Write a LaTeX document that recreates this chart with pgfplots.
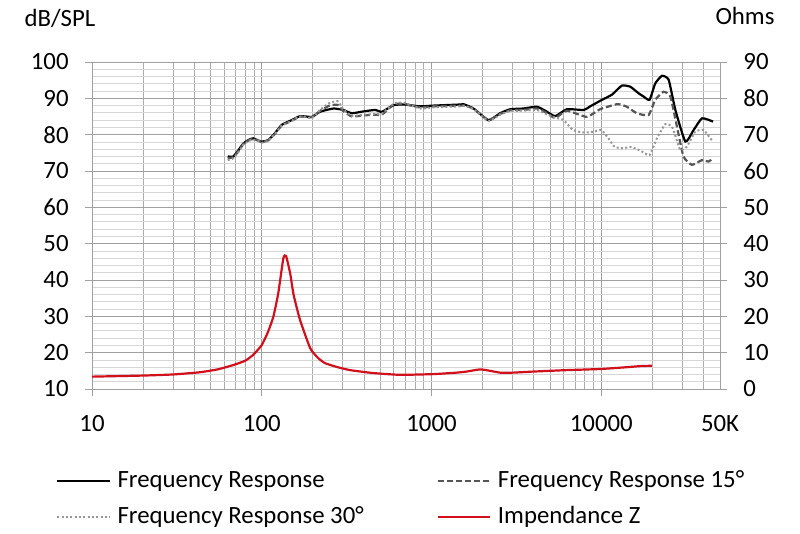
\documentclass[border=0pt]{standalone}
\usepackage{fontspec}
\setmainfont{Carlito}
\usepackage{pgfplots}
\pgfplotsset{compat=1.18}
\definecolor{gmaj}{RGB}{160,160,160}
\definecolor{gminx}{RGB}{172,172,172}
\definecolor{gminy}{RGB}{214,214,214}
\definecolor{dashcol}{RGB}{85,85,85}
\definecolor{dotcol}{RGB}{150,150,150}
\definecolor{zred}{RGB}{208,16,28}
\newcommand{\fs}{\fontsize{24.8}{29}\selectfont}
\begin{document}
\fs
\begin{tikzpicture}
\useasboundingbox (-92pt,-144pt) rectangle (708pt,389pt);
\begin{axis}[
  at={(0pt,0pt)}, anchor=south west, scale only axis,
  width=628pt, height=327pt,
  xmode=log, xmin=10, xmax=50000, ymin=10, ymax=100,
  xtick={10,100,1000,10000}, xticklabels={10,100,1000,10000},
  minor xtick={20,30,40,50,60,70,80,90,200,300,400,500,600,700,800,900,2000,3000,4000,5000,6000,7000,8000,9000,20000,30000,40000},
  extra x ticks={50000}, extra x tick labels={50K},
  extra x tick style={major tick style={draw=none}},
  ytick={10,20,...,100},
  minor ytick={12,14,...,98},
  xtick pos=bottom, ytick pos=left,
  tick align=outside, major tick length=7pt, minor tick length=0pt,
  tick style={gmaj, line width=0.8pt},
  grid=both,
  major grid style={gmaj, line width=0.8pt},
  minor x grid style={gminx, line width=0.8pt},
  minor y grid style={gminy, line width=0.8pt},
  axis line style={gmaj, line width=0.8pt},
  ticklabel style={font=\fs},
  /pgf/number format/assume math mode=true,
  xticklabel style={yshift=-11pt},
  yticklabel style={xshift=-8pt},
  legend columns=2,
  legend cell align=left,
  legend style={draw=none, fill=none, font=\fs, at={(-0.057,-0.244)}, anchor=north west, inner sep=0pt,
    /tikz/every odd column/.append style={column sep=5pt},
    /tikz/every even column/.append style={column sep=71pt}, row sep=10.5pt},
  legend image code/.code={\draw[#1] (0pt,0pt) -- (52pt,0pt);},
]
\addplot[black, line width=2.2pt, smooth, tension=0.3] coordinates {
(63,74.0) (68,74.0) (73,75.8) (78,77.6) (84,78.6) (89,79.0) (95,78.4) (100,78.1)
(109,78.5) (120,80.5) (131,82.7) (150,84.0) (168,85.1) (197,84.9) (220,86.3) (264,87.2)
(302,86.8) (339,85.9) (397,86.4) (465,86.8) (510,86.3) (597,88.1) (684,88.3) (857,87.8)
(1026,88.0) (1472,88.3) (1542,88.4) (1767,87.2) (2163,84.0) (2535,85.9) (2903,87.0)
(3477,87.2) (4165,87.7) (4667,86.6) (5344,85.1) (6266,87.0) (7854,86.8) (8600,87.8)
(9400,88.8) (10000,89.5) (11540,91.0) (13200,93.5) (14800,93.2) (16570,91.4) (17730,90.5)
(19240,89.6) (20780,94.1) (22760,96.2) (24920,95.1) (27290,86.8) (31250,78.1) (34990,81.3)
(39170,84.5) (45500,83.6)
};
\addlegendentry{Frequency Response}
\addplot[dashcol, line width=2.2pt, dash pattern=on 6pt off 3pt, smooth, tension=0.3] coordinates {
(63,73.5) (68,73.8) (73,75.5) (78,77.5) (84,78.5) (89,78.8) (95,78.4) (100,78.0)
(109,78.5) (120,80.3) (131,82.5) (150,83.8) (168,85.0) (197,84.8) (220,86.5) (250,88.0)
(280,88.2) (302,86.5) (339,85.0) (397,85.3) (465,85.5) (510,85.5) (597,88.3) (684,88.5)
(857,87.5) (1026,87.8) (1472,88.0) (1542,88.0) (1767,87.2) (2163,84.0) (2535,85.7)
(2903,86.7) (3477,86.8) (4165,87.2) (4667,86.2) (5344,84.6) (6266,86.6) (8200,84.9)
(9840,87.0) (12410,88.4) (14130,87.7) (16180,85.9) (18970,85.4) (20780,89.6) (23240,91.8)
(25500,90.5) (27860,82.3) (30470,74.0) (34120,71.7) (39170,73.0) (42850,72.6) (45200,73.5)
};
\addlegendentry{Frequency Response 15°}
\addplot[dotcol, line width=2pt, dash pattern=on 2pt off 2.3pt, smooth, tension=0.3] coordinates {
(63,73.0) (68,73.5) (73,75.3) (78,77.3) (84,78.3) (89,78.7) (95,78.3) (100,77.8)
(109,78.3) (120,80.3) (131,82.5) (150,83.8) (168,85.0) (197,84.6) (220,86.8) (250,88.7)
(280,89.2) (302,87.0) (339,85.2) (397,85.5) (465,85.7) (510,85.8) (597,88.5) (684,88.8)
(857,87.2) (1026,87.5) (1472,87.8) (1542,88.0) (1767,87.0) (2163,83.8) (2535,85.5)
(2903,86.5) (3477,86.6) (4165,86.8) (4667,85.8) (5344,84.7) (6000,84.0) (6800,81.3)
(7854,80.6) (9000,80.8) (10000,81.3) (11000,79.0) (12000,76.6) (13500,76.3) (15000,76.6)
(17000,75.6) (19240,74.4) (21250,79.0) (23800,82.9) (26060,82.2) (27800,78.5) (29170,75.8)
(31900,76.7) (35700,80.8) (40000,81.3) (43800,79.0) (45500,78.1)
};
\addlegendentry{Frequency Response 30°}
\addlegendimage{zred, line width=2.2pt}
\addlegendentry{Impendance Z}
\end{axis}
\begin{axis}[
  at={(0pt,0pt)}, anchor=south west, scale only axis,
  width=628pt, height=327pt,
  xmode=log, xmin=10, xmax=50000, ymin=0, ymax=90,
  hide x axis,
  ytick={0,10,...,90}, ytick pos=right,
  tick align=outside, major tick length=7pt, minor tick length=0pt,
  tick style={gmaj, line width=0.8pt},
  axis line style={gmaj, line width=0.8pt},
  ticklabel style={font=\fs},
  /pgf/number format/assume math mode=true,
  yticklabel style={xshift=8pt},
]
\addplot[zred, line width=2.2pt, smooth, tension=0.3] coordinates {
(10,3.4) (20,3.7) (30,4.0) (43,4.6) (55,5.4) (68,6.6) (80,7.8) (89,9.4) (100,12.1)
(109,15.8) (117,19.9) (125,26.3) (134,36.0) (139,36.6) (147,31.8) (154,25.9) (168,19.0)
(193,11.2) (215,8.5) (236,7.1) (280,6.0) (331,5.2) (450,4.4) (653,3.9) (1026,4.1)
(1400,4.5) (1610,4.8) (1932,5.4) (2213,5.0) (2535,4.5) (3000,4.5) (3981,4.8) (6266,5.2)
(9840,5.5) (14130,6.0) (16950,6.3) (19860,6.4)
};
\end{axis}
\node[font=\fs] at (-32pt,371pt) {dB/SPL};
\node[font=\fs] at (653pt,373pt) {Ohms};
\end{tikzpicture}
\end{document}
